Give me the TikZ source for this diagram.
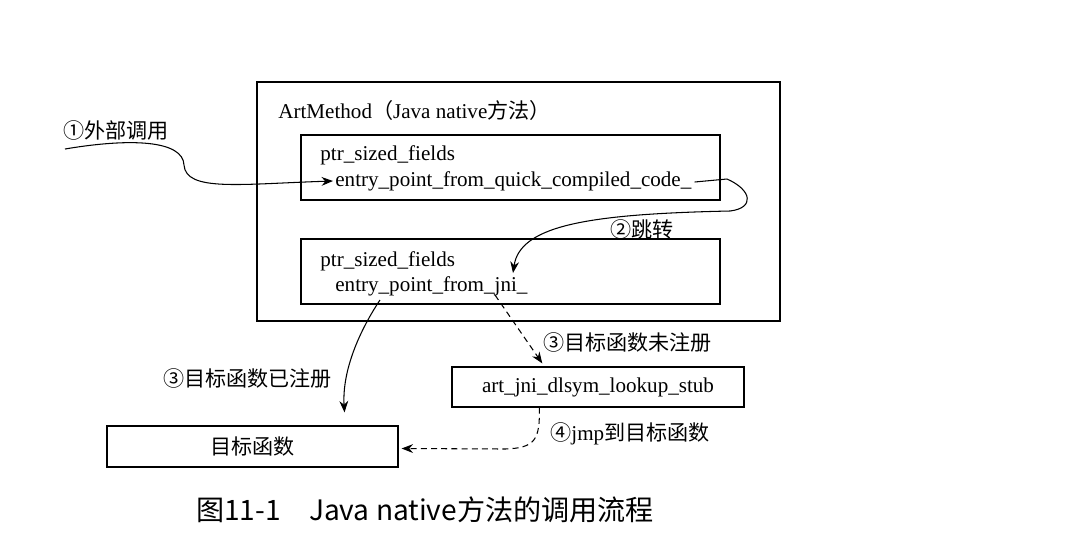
\documentclass[tikz,border=0pt]{standalone}
\usepackage{fontspec}
\setmainfont{Liberation Serif}
\newfontfamily\cjk{Noto Sans CJK SC}
\usetikzlibrary{calc}
\usetikzlibrary{arrows.meta}

\tikzset{
  box/.style={draw, line width=0.7pt, inner sep=0pt},
  txt/.style={anchor=west, inner sep=0pt},
  flow/.style={line width=0.6pt, -{Stealth[length=6.5pt, width=5pt]}},
  flowdash/.style={flow, dash pattern=on 3.4pt off 2.4pt},
}

\begin{document}
\begin{tikzpicture}[x=0.02cm, y=-0.02cm, font=\fontsize{12}{14}\selectfont]
  \useasboundingbox (0,0) rectangle (1069,532);

  % boxes
  \node[box, minimum width=10.46cm, minimum height=4.78cm] (artmethod) at (518.5, 201.5) {};
  \node[box, minimum width=8.38cm, minimum height=1.30cm] (quickbox) at (510.5, 167.5) {};
  \node[box, minimum width=8.38cm, minimum height=1.30cm] (jnibox) at (510.5, 271.5) {};
  \node[box, minimum width=5.84cm, minimum height=0.80cm] (stub) at (598, 387) {art\_jni\_dlsym\_lookup\_stub};
  \node[box, minimum width=5.82cm, minimum height=0.82cm] (target) at (252.5, 446.5) {{\cjk 目标函数}};

  % texts in the boxes
  \node[txt] (arttitle) at (278, 110) {ArtMethod{\cjk （}Java native{\cjk 方法）}};
  \node[txt] (quicktitle) at (320, 155) {ptr\_sized\_fields};
  \node[txt] (quickentry) at (335, 181) {entry\_point\_from\_quick\_compiled\_code\_};
  \node[txt] (jnititle) at (320, 261) {ptr\_sized\_fields};
  \node[txt] (jnientry) at (335, 286) {entry\_point\_from\_jni\_};

  % labels
  \node[txt] (lblext) at (63, 130) {{\cjk ①外部调用}};
  \node[txt] (lbljump) at (610, 229) {{\cjk ②跳转}};
  \node[txt] (lblreg) at (163, 378) {{\cjk ③目标函数已注册}};
  \node[txt] (lblunreg) at (543, 342) {{\cjk ③目标函数未注册}};
  \node[txt] (lbljmp) at (550, 434) {{\cjk ④}jmp{\cjk 到目标函数}};
  \node (caption) at (425, 510) {\cjk\fontsize{16}{19}\selectfont 图11-1\quad Java native方法的调用流程};

  % end points of the connectors
  \coordinate (extin) at (65, 149);
  \coordinate (quickin) at (333, 181);
  \coordinate (quickout) at ($(quickentry.east)+(3,1)$);
  \coordinate (jniin) at (513, 273);
  \coordinate (jniout) at (380, 300);
  \coordinate (jnidash) at (495, 295);
  \coordinate (stubin) at ($(stub.north west)!0.31!(stub.north east)+(0,-3)$);
  \coordinate (stubout) at ($(stub.south west)!0.30!(stub.south east)$);
  \coordinate (targetin) at ($(target.north)+(92,-13)$);

  % connectors
  \draw[flow] (extin) .. controls (130,138) and (183,140) .. (184,165)
    .. controls (186,192) and (240,184) .. (quickin);
  \draw[flow] (quickout) -- (727,179) .. controls (752,190) and (755,208) .. (730,211)
    .. controls (590,214) and (520,225) .. (jniin);
  \draw[flow] (jniout) .. controls (360,330) and (342,370) .. (targetin);
  \draw[flowdash] (jnidash) -- (stubin);
  \draw[flowdash] (stubout) .. controls (540,440) and (535,448) .. (505,449) -- ($(target.east)+(3,2)$);
\end{tikzpicture}
\end{document}
